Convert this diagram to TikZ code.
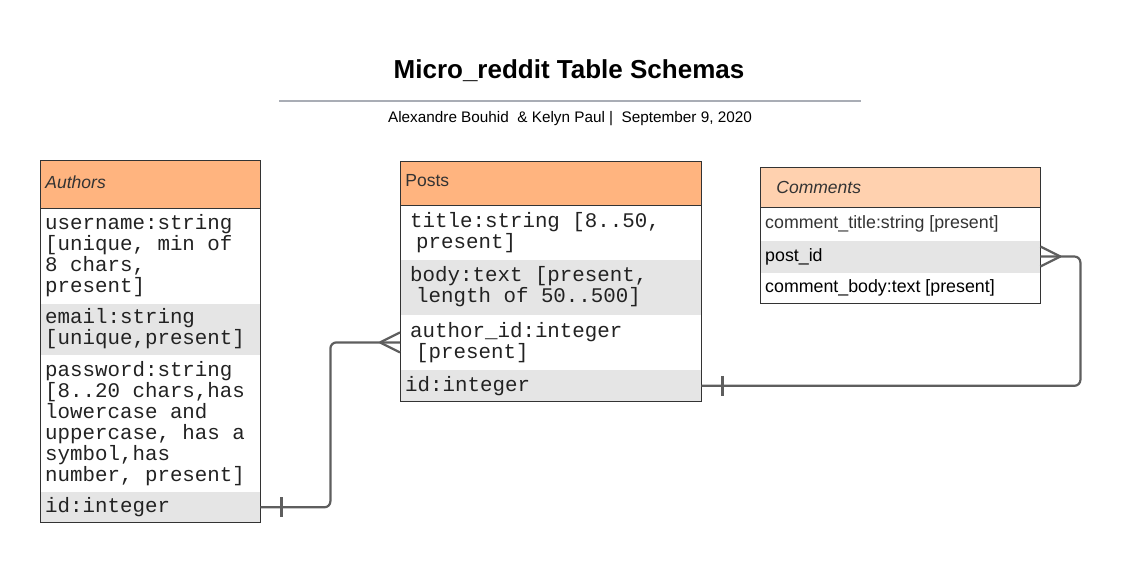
\documentclass[tikz,border=0pt]{standalone}
\usepackage{fontspec}
\setmainfont{Liberation Sans}
\setmonofont{Liberation Mono}
\usepackage{xcolor}
\usetikzlibrary{positioning, calc, fit}
\definecolor{hdr}{HTML}{FFB47F}
\definecolor{hdrlight}{HTML}{FFD1AF}
\definecolor{rowgrey}{HTML}{E5E5E5}
\definecolor{edge}{HTML}{333333}
\definecolor{wire}{HTML}{5E5E5E}
\definecolor{ink}{HTML}{222222}
\definecolor{rulegrey}{HTML}{A9ADB5}
\newcommand{\fieldfont}{\fontsize{20.8}{21}\selectfont\ttfamily}
\tikzset{
    field/.style={anchor=north west, inner ysep=0pt, align=flush left, text=ink, font=\fieldfont},
    arow/.style={field, inner xsep=5pt, text width=210pt},
    prow/.style={field, inner xsep=10pt, text width=281pt},
    crow/.style={field, inner xsep=5pt, text width=270pt, minimum height=32pt, font=\fontsize{17.8}{19}\selectfont},
    head/.style={anchor=north west, draw=edge, line width=0.9pt, inner ysep=0pt, align=flush left, text=edge, font=\fontsize{17.5}{19}\selectfont},
    frame/.style={draw=edge, line width=0.9pt, inner sep=0pt},
    conn/.style={draw=wire, line width=2.2pt}
}
\begin{document}
\begin{tikzpicture}[x=1pt, y=-1pt]
    \useasboundingbox (0,0) rectangle (1123,574);

    % Title block
    \node[font=\fontsize{26}{30}\selectfont\bfseries] (title) at (569,71) {Micro\_reddit Table Schemas};
    \draw[draw=rulegrey, line width=1.6pt] (279,101) -- (861,101);
    \node[font=\fontsize{15.3}{17}\selectfont] (byline) at (570,119) {Alexandre Bouhid\ \ \& Kelyn Paul |\ \ September 9, 2020};

    % Authors
    \node[head, fill=hdr, inner xsep=5pt, text width=210pt, minimum height=48pt] (a-head) at (40,160) {\raisebox{5pt}{\itshape Authors}};
    \node[arow, minimum height=94pt] (a-user) at (a-head.south west) {username:string\\{[}unique, min of\\8 chars,\\present{]}};
    \node[arow, fill=rowgrey, minimum height=51pt] (a-email) at (a-user.south west) {email:string\\{[}unique,present{]}};
    \node[arow, minimum height=137pt] (a-pass) at (a-email.south west) {password:string\\{[}8..20 chars,has\\lowercase and\\uppercase, has a\\symbol,has\\number, present{]}};
    \node[arow, fill=rowgrey, minimum height=30pt] (a-id) at (a-pass.south west) {id:integer};
    \node[frame, fit=(a-head)(a-id)] (authors) {};

    % Posts
    \node[head, fill=hdr, inner xsep=5pt, text width=291pt, minimum height=44pt] (p-head) at (400,161) {\raisebox{5pt}{Posts}};
    \node[prow, minimum height=53pt] (p-title) at (p-head.south west) {title:string {[}8..50,\\\hspace*{6pt}present{]}};
    \node[prow, fill=rowgrey, minimum height=55pt] (p-body) at (p-title.south west) {body:text {[}present,\\\hspace*{6pt}length of 50..500{]}};
    \node[prow, minimum height=55pt] (p-author) at (p-body.south west) {author\_id:integer\\\hspace*{6pt}{[}present{]}};
    \node[prow, fill=rowgrey, inner xsep=5pt, text width=291pt, minimum height=31pt] (p-id) at (p-author.south west) {id:integer};
    \node[frame, fit=(p-head)(p-id)] (posts) {};

    % Comments
    \node[head, fill=hdrlight, inner xsep=16pt, text width=248pt, minimum height=40pt] (c-head) at (760,167) {\itshape Comments};
    \node[crow, text=edge] (c-title) at (c-head.south west) {comment\_title:string {[}present{]}};
    \node[crow, fill=rowgrey, text=black] (c-post) at (c-title.south west) {post\_id};
    \node[crow, text=black, minimum height=30pt] (c-body) at (c-post.south west) {comment\_body:text {[}present{]}};
    \node[frame, fit=(c-head)(c-body)] (comments) {};

    % Authors -> Posts
    \draw[conn, rounded corners=6pt] (a-id.east) -- ($(a-id.east)+(70,0)$) |- (p-author.west);
    \draw[conn] ($(a-id.east)+(21,-10)$) -- ++(0,20);
    \draw[conn] ($(p-author.west)+(-20,0)$) -- ($(p-author.west)+(0,-10)$);
    \draw[conn] ($(p-author.west)+(-20,0)$) -- ($(p-author.west)+(0,10)$);

    % Posts -> Comments
    \draw[conn, rounded corners=6pt] (p-id.east) -| ($(c-post.east)+(40,0)$) -- (c-post.east);
    \draw[conn] ($(p-id.east)+(21,-10)$) -- ++(0,20);
    \draw[conn] ($(c-post.east)+(20,0)$) -- ($(c-post.east)+(0,-10)$);
    \draw[conn] ($(c-post.east)+(20,0)$) -- ($(c-post.east)+(0,10)$);
\end{tikzpicture}
\end{document}
